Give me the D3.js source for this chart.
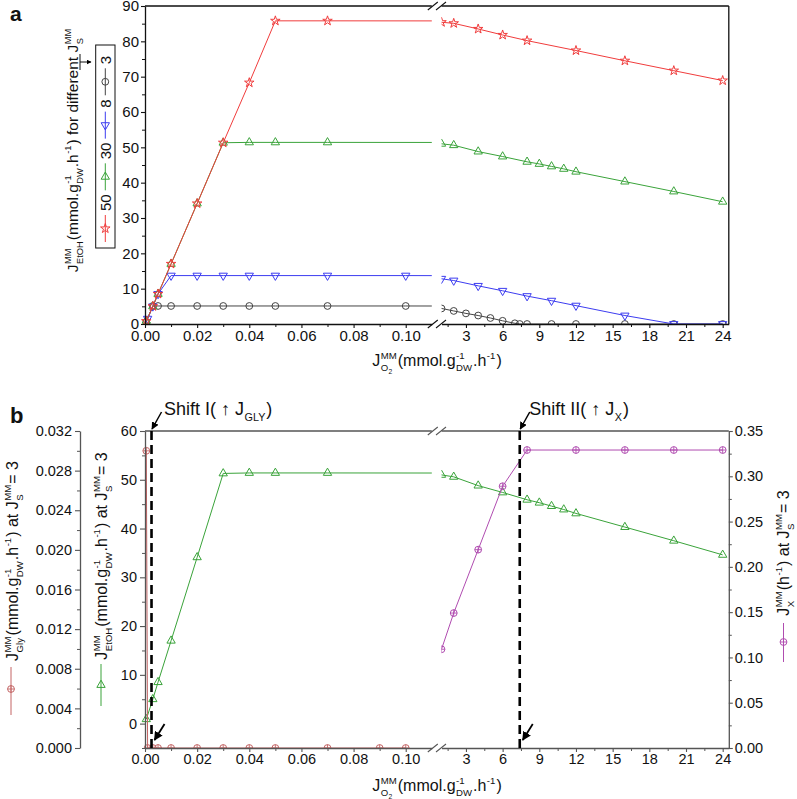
<!DOCTYPE html>
<html>
<head>
<meta charset="utf-8">
<script src="https://cdn.jsdelivr.net/npm/d3@7"></script>
<style>
  body { margin: 0; background: #fff; }
  svg { font-family: "Liberation Sans", Arial, sans-serif; }
</style>
</head>
<body>
<svg id="chart" width="797" height="799"></svg>
<script>
// ---- data ----
// panel a : J_EtOH for different J_S
const js3X  = [0.0005, 0.003, 0.005, 0.01, 0.02, 0.03, 0.04, 0.05, 0.07, 0.10, 1, 2, 3, 4, 5, 6, 7, 7.4, 8, 10, 12, 16, 20, 24];
const js3Y  = [0.5, 5.1, 5.1, 5.1, 5.1, 5.1, 5.1, 5.1, 5.1, 5.1, 4.4, 3.7, 3.0, 2.4, 1.7, 0.9, 0.2, 0, 0, 0, 0, 0, 0, 0];
const js8X  = [0.001, 0.003, 0.005, 0.01, 0.02, 0.03, 0.04, 0.05, 0.07, 0.10, 1, 2, 4, 6, 8, 10, 12, 16, 20, 24];
const js8Y  = [1.5, 5.0, 8.5, 13.7, 13.7, 13.7, 13.7, 13.7, 13.7, 13.7, 12.8, 12.3, 10.8, 9.4, 7.9, 6.6, 5.2, 2.4, 0, 0];
const js30X = [0.0005, 0.003, 0.005, 0.01, 0.02, 0.03, 0.04, 0.05, 0.07, 1, 2, 4, 6, 8, 9, 10, 11, 12, 16, 20, 24];
const js30Y = [0.9, 5.0, 8.5, 17.0, 34.1, 51.3, 51.4, 51.4, 51.4, 51.0, 50.6, 48.8, 47.4, 45.9, 45.3, 44.6, 43.9, 43.1, 40.3, 37.5, 34.6];
const js50X = [0.0005, 0.003, 0.005, 0.01, 0.02, 0.03, 0.04, 0.05, 0.07, 1, 2, 4, 6, 8, 12, 16, 20, 24];
const js50Y = [0.8, 5.0, 8.5, 17.0, 34.1, 51.3, 68.3, 85.8, 85.8, 85.4, 85.1, 83.5, 81.8, 80.2, 77.4, 74.5, 71.7, 68.9];
const legendLabels = ['50', '30', '8', '3'];

// panel b : J_S = 3
const glyX = [0.0005, 0.001, 0.003, 0.005, 0.01, 0.02, 0.03, 0.04, 0.05, 0.07, 0.09, 0.10];
const glyY = [0.030, 0, 0, 0, 0, 0, 0, 0, 0, 0, 0, 0];
const bioX = [1, 2, 4, 6, 8, 12, 16, 20, 24];
const bioY = [0.109, 0.149, 0.219, 0.289, 0.329, 0.329, 0.329, 0.329, 0.329];
const shiftX = [0.0025, 7.4];

// ticks
const xLeftTicks  = [0, 0.02, 0.04, 0.06, 0.08, 0.10];
const xLeftMinor  = [0.01, 0.03, 0.05, 0.07, 0.09];
const xRightTicks = [3, 6, 9, 12, 15, 18, 21, 24];
const xRightMinor = [1.5, 4.5, 7.5, 10.5, 13.5, 16.5, 19.5, 22.5];
const yaTicks = d3.range(0, 91, 10);
const yaMinor = d3.range(5, 90, 10);
const etTicks = d3.range(0, 61, 10);
const etMinor = d3.range(-5, 60, 10);
const glyTicks = d3.range(0, 0.0321, 0.004);
const glyMinor = d3.range(0.002, 0.031, 0.004);
const bioTicks = d3.range(0, 0.351, 0.05);
const bioMinor = d3.range(0.025, 0.34, 0.05);

const svg = d3.select('#chart');
const defs = svg.append('defs');

// broken x axis, shared by both panels
const xL = d3.scaleLinear().domain([0, 0.11]).range([145, 431.8]);
const xR = d3.scaleLinear().domain([1, 24.5]).range([441.5, 728.8]);
const X0 = 145, X1 = 728.8;

const A = { top: 6, bottom: 324 };
const B = { top: 431, bottom: 748 };

const yA = d3.scaleLinear().domain([0, 90]).range([A.bottom, A.top]);
const yE = d3.scaleLinear().domain([-5, 60]).range([B.bottom, B.top]);
const yG = d3.scaleLinear().domain([0, 0.032]).range([B.bottom, B.top]);
const yX = d3.scaleLinear().domain([0, 0.35]).range([B.bottom, B.top]);

function clipRect(id, x0, x1, y0, y1) {
  defs.append('clipPath').attr('id', id).append('rect')
    .attr('x', x0).attr('y', y0).attr('width', x1 - x0).attr('height', y1 - y0);
}
clipRect('aL', 140, xL.range()[1], A.top, A.bottom);
clipRect('aR', xR.range()[0], X1, A.top, A.bottom);
clipRect('bL', 140, xL.range()[1], B.top, B.bottom);
clipRect('bR', xR.range()[0], X1, B.top, B.bottom);

defs.append('marker').attr('id', 'head').attr('viewBox', '0 0 10 10')
  .attr('refX', 9).attr('refY', 5).attr('markerWidth', 5).attr('markerHeight', 5)
  .attr('orient', 'auto').attr('markerUnits', 'strokeWidth')
  .append('path').attr('d', 'M0,0L10,5L0,10Z').attr('fill', '#000');

// markers
function drawMarker(sel, type, color) {
  if (type === 'circle' || type === 'cross') {
    sel.append('circle').attr('r', 3.4).attr('fill', 'none').attr('stroke', color).attr('stroke-width', 1);
    if (type === 'cross') sel.append('path').attr('d', 'M-3.4,0H3.4M0,-3.4V3.4').attr('stroke', color).attr('stroke-width', 0.9);
  } else {
    const sym = type === 'star' ? d3.symbolStar : d3.symbolTriangle;
    sel.append('path').attr('d', d3.symbol(sym, type === 'star' ? 28 : 30)())
      .attr('transform', type === 'down' ? 'rotate(180)' : null)
      .attr('fill', 'none').attr('stroke', color).attr('stroke-width', 1);
  }
}

function series(g, clipId, xs, ys, xs_scale, y, color, mk) {
  const pts = xs.map((x, i) => [x, ys[i]]);
  const layer = g.append('g').attr('clip-path', `url(#${clipId})`);
  layer.append('path').datum(pts)
    .attr('d', d3.line().x(d => xs_scale(d[0])).y(d => y(d[1])))
    .attr('fill', 'none').attr('stroke', color).attr('stroke-width', 1);
  layer.selectAll('g.m').data(pts).join('g').attr('class', 'm')
    .attr('transform', d => `translate(${xs_scale(d[0])},${y(d[1])})`)
    .call(drawMarker, mk, color);
}
function brokenSeries(g, panel, xs, ys, y, color, mk) {
  series(g, panel + 'L', xs, ys, xL, y, color, mk);
  series(g, panel + 'R', xs, ys, xR, y, color, mk);
}

// axes helpers
function styleAxis(sel, color, fs) {
  sel.select('.domain').attr('stroke', color).attr('stroke-width', 1.3);
  sel.selectAll('.tick line').attr('stroke', color).attr('stroke-width', 1.1);
  sel.selectAll('.tick text').attr('fill', '#111').attr('font-size', fs)
    .attr('font-family', '"Liberation Sans", Arial, sans-serif');
}
function addAxis(gen, tx, ty, color, fs) {
  const a = svg.append('g').attr('transform', `translate(${tx},${ty})`).call(gen);
  styleAxis(a, color, fs);
  return a;
}
function minor(gen, tx, ty, color) {
  const a = svg.append('g').attr('transform', `translate(${tx},${ty})`).call(gen.tickFormat('').tickSize(3).tickSizeOuter(0));
  a.select('.domain').remove();
  a.selectAll('.tick line').attr('stroke', color).attr('stroke-width', 1);
}
function xAxes(y, color, fs) {
  addAxis(d3.axisBottom(xL).tickValues(xLeftTicks).tickFormat(d3.format('.2f')).tickSize(4).tickSizeOuter(0).tickPadding(2), 0, y, color, fs);
  addAxis(d3.axisBottom(xR).tickValues(xRightTicks).tickFormat(d3.format('d')).tickSize(4).tickSizeOuter(0).tickPadding(2), 0, y, color, fs);
  minor(d3.axisBottom(xL).tickValues(xLeftMinor), 0, y, color);
  minor(d3.axisBottom(xR).tickValues(xRightMinor), 0, y, color);
}
function topLine(y, color) {
  svg.append('path').attr('d', `M${X0},${y}H${xL.range()[1]}M${xR.range()[0]},${y}H${X1}`)
    .attr('stroke', color).attr('stroke-width', 1.3).attr('fill', 'none');
}
function breakMarks(y, color) {
  [xL.range()[1] + 1, xR.range()[0] - 0.5].forEach(x => {
    svg.append('line').attr('x1', x - 5).attr('y1', y + 4).attr('x2', x + 5).attr('y2', y - 4)
      .attr('stroke', color).attr('stroke-width', 1.1);
  });
}

// rich text with super/subscripts
function rich(parent, parts, fs) {
  const g = parent.append('g');
  let x = 0;
  const put = (txt, dx, dy, size) => {
    const t = g.append('text').attr('x', x + dx).attr('y', dy).attr('font-size', size).attr('fill', '#111').text(txt);
    return t.node().getComputedTextLength();
  };
  parts.forEach(p => {
    if (typeof p === 'string') { x += put(p, 0, 0, fs); return; }
    let w = 0;
    if (p.sup) w = Math.max(w, put(p.sup, 0.5, -fs * 0.45, fs * 0.6));
    if (p.sub) {
      let ws = put(p.sub, 0.5, fs * 0.32, fs * 0.6);
      if (p.sub2) ws += put(p.sub2, ws + 0.8, fs * 0.5, fs * 0.42);
      w = Math.max(w, ws);
    }
    x += w + 1.5;
  });
  return { g, w: x };
}
function vLabel(parts, fs, bx, cy) {
  const r = rich(svg, parts, fs);
  r.g.attr('transform', `translate(${bx},${cy}) rotate(-90) translate(${-r.w / 2},0)`);
  return r;
}
function hLabel(parts, fs, cx, by) {
  const r = rich(svg, parts, fs);
  r.g.attr('transform', `translate(${cx - r.w / 2},${by})`);
  return r;
}
function legendStub(x, y0, y1, my, color, mk) {
  svg.append('line').attr('x1', x).attr('x2', x).attr('y1', y0).attr('y2', y1).attr('stroke', color).attr('stroke-width', 1);
  svg.append('g').attr('transform', `translate(${x},${my})`).call(drawMarker, mk, color);
}

const RED = '#f03c3c', GREEN = '#3aa33a', BLUE = '#3c3cf0', BLACK = '#444', PURPLE = '#b04cb0', GLY = '#c46464';

// ================= panel a =================
const ga = svg.append('g');
brokenSeries(ga, 'a', js3X, js3Y, yA, BLACK, 'circle');
brokenSeries(ga, 'a', js8X, js8Y, yA, BLUE, 'down');
brokenSeries(ga, 'a', js30X, js30Y, yA, GREEN, 'up');
brokenSeries(ga, 'a', js50X, js50Y, yA, RED, 'star');

addAxis(d3.axisLeft(yA).tickValues(yaTicks).tickSize(4).tickSizeOuter(0).tickPadding(2), X0, 0, '#111', 15);
minor(d3.axisLeft(yA).tickValues(yaMinor), X0, 0, '#111');
xAxes(A.bottom, '#111', 15);
topLine(A.top, '#111');
svg.append('line').attr('x1', X1).attr('x2', X1).attr('y1', A.top).attr('y2', A.bottom).attr('stroke', '#111').attr('stroke-width', 1.3);
breakMarks(A.top, '#111');
breakMarks(A.bottom, '#111');

vLabel(['J', { sup: 'MM', sub: 'EtOH' }, '(mmol.g', { sup: '-1', sub: 'DW' }, '.h', { sup: '-1' }, ') for different J', { sup: 'MM', sub: 'S' }], 15.5, 78, 150);
hLabel(['J', { sup: 'MM', sub: 'O', sub2: '2' }, '(mmol.g', { sup: '-1', sub: 'DW' }, '.h', { sup: '-1' }, ')'], 16, 437, 366);

// little pointer from the label to the legend
svg.append('path').attr('d', 'M80,54V70M80,62H91').attr('stroke', '#111').attr('stroke-width', 1).attr('fill', 'none').attr('marker-end', 'url(#head)');

// legend box (rotated entries)
svg.append('rect').attr('x', 95.7).attr('y', 45).attr('width', 19.3).attr('height', 203)
  .attr('fill', 'none').attr('stroke', '#111').attr('stroke-width', 1);
const legColors = [RED, GREEN, BLUE, BLACK];
const legMarks = ['star', 'up', 'down', 'circle'];
let ly = 242;
legendLabels.forEach((lab, i) => {
  const L = 27;
  legendStub(105.3, ly, ly - L, ly - L / 2, legColors[i], legMarks[i]);
  ly -= L + 4;
  const t = svg.append('text').attr('font-size', 15).attr('fill', '#111')
    .attr('transform', `translate(110.5,${ly}) rotate(-90)`).text(lab);
  ly -= t.node().getComputedTextLength() + 4;
});

svg.append('text').attr('x', 10).attr('y', 21).attr('font-size', 21).attr('font-weight', 'bold').attr('fill', '#111').text('a');

// ================= panel b =================
const gb = svg.append('g');
brokenSeries(gb, 'b', js30X, js30Y, yE, GREEN, 'up');
brokenSeries(gb, 'b', glyX, glyY, yG, GLY, 'cross');
brokenSeries(gb, 'b', bioX, bioY, yX, PURPLE, 'cross');

const GREY = '#555';
addAxis(d3.axisLeft(yE).tickValues(etTicks).tickSize(5).tickSizeOuter(0).tickPadding(3), X0, 0, GREY, 14.5);
minor(d3.axisLeft(yE).tickValues(etMinor), X0, 0, GREY);
addAxis(d3.axisLeft(yG).tickValues(glyTicks).tickFormat(d3.format('.3f')).tickSize(5).tickSizeOuter(0).tickPadding(3), 80, 0, GREY, 14.5);
minor(d3.axisLeft(yG).tickValues(glyMinor), 80, 0, GREY);
addAxis(d3.axisRight(yX).tickValues(bioTicks).tickFormat(d3.format('.2f')).tickSize(4).tickSizeOuter(0).tickPadding(2), X1, 0, GREY, 14.5);
minor(d3.axisRight(yX).tickValues(bioMinor), X1, 0, GREY);
xAxes(B.bottom, GREY, 14.5);
topLine(B.top, GREY);
breakMarks(B.top, GREY);
breakMarks(B.bottom, GREY);

// shift markers
const shiftScales = [xL, xR];
const shiftNames = [['Shift I( ↑ J', { sub: 'GLY' }, ')'], ['Shift II( ↑ J', { sub: 'X' }, ')']];
shiftX.forEach((v, i) => {
  const xd = shiftScales[i](v);
  svg.append('line').attr('x1', xd).attr('x2', xd).attr('y1', B.top).attr('y2', B.bottom)
    .attr('stroke', '#000').attr('stroke-width', 2.6).attr('stroke-dasharray', '9,5');
  svg.append('line').attr('x1', xd + 10).attr('y1', 412).attr('x2', xd + 0.5).attr('y2', 429)
    .attr('stroke', '#000').attr('stroke-width', 1.5).attr('marker-end', 'url(#head)');
  svg.append('line').attr('x1', xd + 13).attr('y1', 724).attr('x2', xd + 3).attr('y2', 740)
    .attr('stroke', '#000').attr('stroke-width', 1.8).attr('marker-end', 'url(#head)');
  const r = rich(svg, shiftNames[i], 18);
  r.g.attr('transform', `translate(${xd + (i === 0 ? 12.5 : 9.5)},415)`);
});

vLabel(['J', { sup: 'MM', sub: 'Gly' }, '(mmol.g', { sup: '-1', sub: 'DW' }, '.h', { sup: '-1' }, ') at J', { sup: 'MM', sub: 'S' }, '= 3'], 16, 18, 561);
legendStub(11, 715, 667, 689, GLY, 'cross');
vLabel(['J', { sup: 'MM', sub: 'EtOH' }, '(mmol.g', { sup: '-1', sub: 'DW' }, '.h', { sup: '-1' }, ') at J', { sup: 'MM', sub: 'S' }, '= 3'], 16, 107, 556);
legendStub(101, 706, 664, 685, GREEN, 'up');
vLabel(['J', { sup: 'MM', sub: 'X' }, '(h', { sup: '-1' }, ') at J', { sup: 'MM', sub: 'S' }, '= 3'], 16, 789, 553);
legendStub(783.5, 662, 623, 642, PURPLE, 'cross');

hLabel(['J', { sup: 'MM', sub: 'O', sub2: '2' }, '(mmol.g', { sup: '-1', sub: 'DW' }, '.h', { sup: '-1' }, ')'], 16, 437, 791);

svg.append('text').attr('x', 10).attr('y', 423).attr('font-size', 22).attr('font-weight', 'bold').attr('fill', '#111').text('b');
</script>
</body>
</html>
